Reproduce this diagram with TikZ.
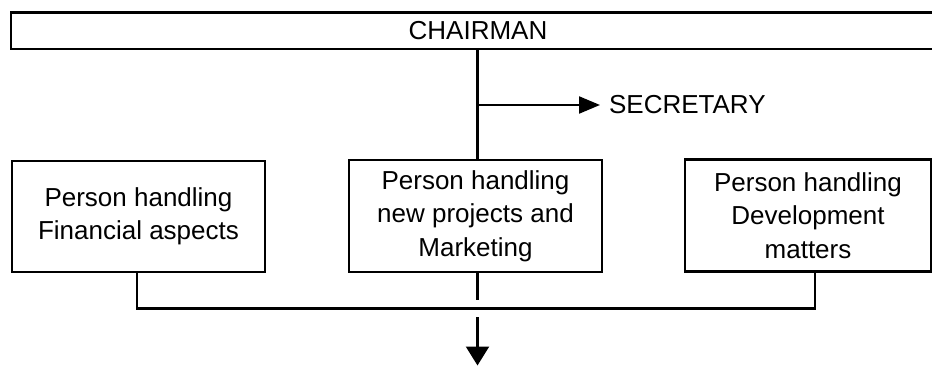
\documentclass[tikz,border=0pt]{standalone}
\usepackage{fontspec}
\setmainfont{Liberation Sans}
\usetikzlibrary{arrows.meta}
\begin{document}
\begin{tikzpicture}[x=1pt,y=-1pt,line width=2.2pt,
  txt/.style={font=\fontsize{26}{33.5}\selectfont},
  box/.style={txt,draw,line width=2.2pt,align=center,inner sep=0pt},
  lbl/.style={txt,inner ysep=0pt,inner xsep=8pt},
  tipA/.style={-{Triangle[length=21pt,width=17pt]}},
  tipB/.style={-{Triangle[length=19pt,width=23pt]}}]
\useasboundingbox (0,0) rectangle (932,366);
\node[box,minimum width=934pt,minimum height=36.5pt] (chair) at (478,30.75) {CHAIRMAN};
\node[box,minimum width=253pt,minimum height=111pt] (fin) at (138.5,216.5) {Person handling\\Financial aspects};
\node[box,minimum width=253pt,minimum height=112pt] (mkt) at (475.5,216) {Person handling\\new projects and\\Marketing};
\node[box,minimum width=246pt,minimum height=112pt] (dev) at (808,215.5) {Person handling\\Development\\matters};
\node[lbl,anchor=west] (sec) at (600,105) {SECRETARY};
\coordinate (c) at (477.5,0);
\coordinate (s) at (477.5,105);
\coordinate (bl) at (137,308.5);
\coordinate (br) at (815,308.5);
\coordinate (cm) at (477.5,300);
\coordinate (o1) at (477.5,317);
\coordinate (o2) at (477.5,365.5);
\draw (chair.south -| c) -- (mkt.north -| c);
\draw[tipA] (s) -- (sec.west);
\draw (fin.south -| bl) -- (bl) -- (br) -- (dev.south -| br);
\draw (mkt.south -| c) -- (cm);
\draw[tipB] (o1) -- (o2);
\end{tikzpicture}
\end{document}
